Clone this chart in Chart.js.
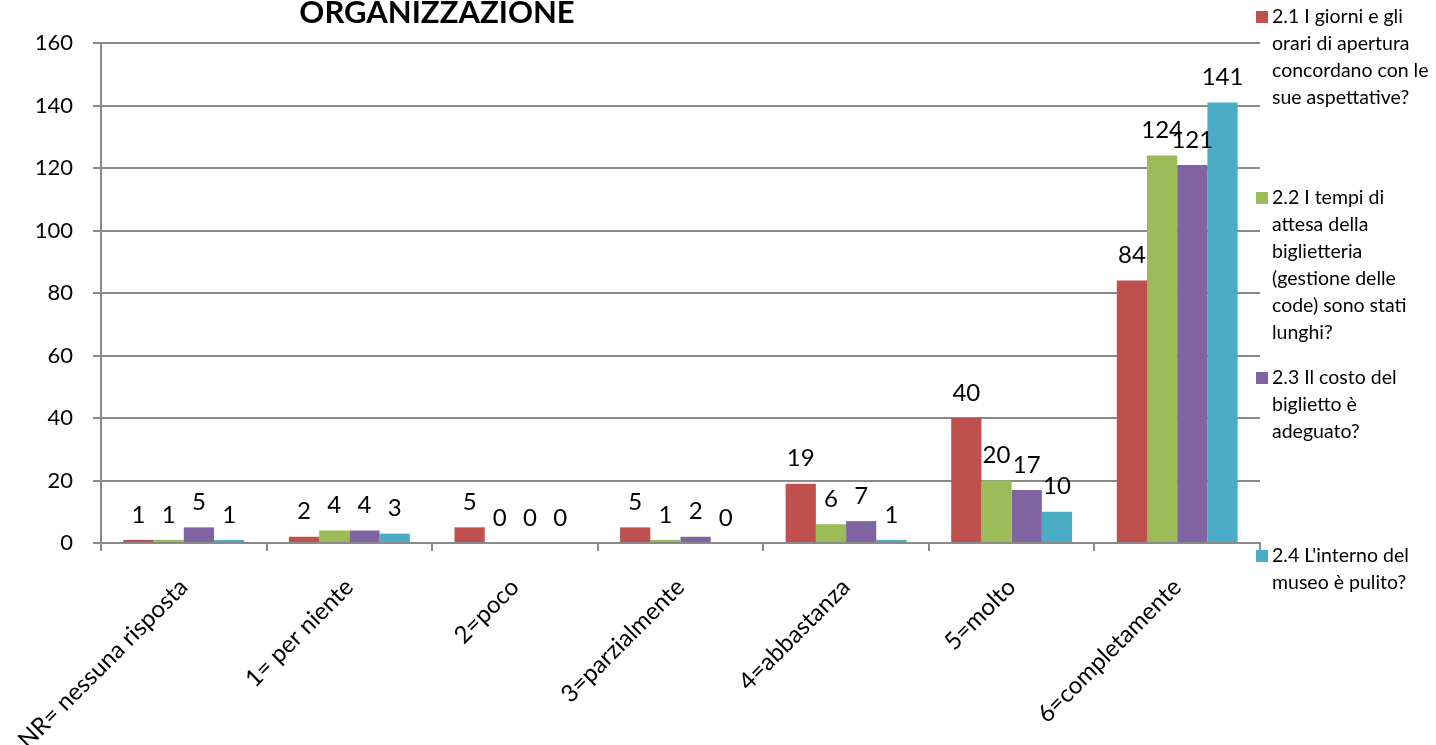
<!DOCTYPE html>
<html>
<head>
<meta charset="utf-8">
<script src="https://cdn.jsdelivr.net/npm/chart.js@4"></script>
<style>
    html, body { margin: 0; padding: 0; background: #fff; }
    #contenitore { width: 1436px; height: 745px; position: relative; }
</style>
</head>
<body>
<div id="contenitore"><canvas id="grafico"></canvas></div>
<script>
// dati
const categorie = ["NR= nessuna risposta", "1= per niente", "2=poco", "3=parzialmente", "4=abbastanza", "5=molto", "6=completamente"];
const giorniOrari = [1, 2, 5, 5, 19, 40, 84];
const tempiAttesa = [1, 4, 0, 1, 6, 20, 124];
const costoBiglietto = [5, 4, 0, 2, 7, 17, 121];
const pulizia = [1, 3, 0, 0, 1, 10, 141];
const nomiSerie = [
    ["2.1 I giorni e gli", "orari di apertura", "concordano con le", "sue aspettative?"],
    ["2.2 I tempi di", "attesa della", "biglietteria", "(gestione delle", "code) sono stati", "lunghi?"],
    ["2.3 Il costo del", "biglietto è", "adeguato?"],
    ["2.4 L'interno del", "museo è pulito?"]
];
const titolo = "ORGANIZZAZIONE";

const colori = ["#C0504D", "#9BBB59", "#8064A2", "#4BACC6"];
const FONT = "Lato, 'Open Sans', sans-serif";

// etichette con i valori sopra le barre
const etichetteValori = {
    id: "etichetteValori",
    afterDatasetsDraw(chart) {
        const ctx = chart.ctx;
        ctx.save();
        ctx.font = "24px " + FONT;
        ctx.fillStyle = "#000";
        ctx.textAlign = "center";
        ctx.textBaseline = "middle";
        chart.data.datasets.forEach(function (ds, i) {
            const meta = chart.getDatasetMeta(i);
            meta.data.forEach(function (bar, j) {
                ctx.fillText(String(ds.data[j]), bar.x, bar.y - 25);
            });
        });
        ctx.restore();
    }
};

// titolo e legenda disegnati a mano (la legenda ha testo su più righe)
const titoloELegenda = {
    id: "titoloELegenda",
    afterDraw(chart) {
        const ctx = chart.ctx;
        ctx.save();
        ctx.font = "bold 31px " + FONT;
        ctx.fillStyle = "#000";
        ctx.textAlign = "center";
        ctx.textBaseline = "middle";
        ctx.fillText(titolo, 437, 13);

        const inizio = [17, 198, 378, 556];
        ctx.font = "19.5px " + FONT;
        ctx.textAlign = "left";
        nomiSerie.forEach(function (righe, i) {
            ctx.fillStyle = colori[i];
            ctx.fillRect(1256, inizio[i] - 6, 12, 12);
            ctx.fillStyle = "#000";
            righe.forEach(function (r, k) {
                ctx.fillText(r, 1272, inizio[i] + k * 27);
            });
        });
        ctx.restore();
    }
};

const ctx = document.getElementById("grafico").getContext("2d");
const chart = new Chart(ctx, {
    type: "bar",
    data: {
        labels: categorie,
        datasets: [
            { label: nomiSerie[0].join(" "), data: giorniOrari, backgroundColor: colori[0] },
            { label: nomiSerie[1].join(" "), data: tempiAttesa, backgroundColor: colori[1] },
            { label: nomiSerie[2].join(" "), data: costoBiglietto, backgroundColor: colori[2] },
            { label: nomiSerie[3].join(" "), data: pulizia, backgroundColor: colori[3] }
        ]
    },
    options: {
        responsive: true,
        maintainAspectRatio: false,
        animation: false,
        layout: { padding: { top: 43, right: 176, left: 0, bottom: 0 } },
        datasets: { bar: { categoryPercentage: 0.73, barPercentage: 1 } },
        plugins: {
            legend: { display: false },
            title: { display: false },
            tooltip: { enabled: false }
        },
        scales: {
            x: {
                grid: { drawOnChartArea: false, drawTicks: true, tickLength: 8, color: "#8a8a8a", lineWidth: 2 },
                border: { color: "#8a8a8a", width: 2 },
                ticks: {
                    autoSkip: false, maxRotation: 45, minRotation: 45,
                    color: "#000", font: { family: FONT, size: 24 }, padding: 22
                },
                afterFit(scale) {
                    scale.height = 202;
                    scale.paddingLeft = 0;
                    scale.paddingRight = 0;
                }
            },
            y: {
                min: 0, max: 160,
                ticks: { stepSize: 20, color: "#000", font: { family: FONT, size: 22 }, padding: 20 },
                grid: { color: "#8a8a8a", lineWidth: 2, tickLength: 8 },
                border: { color: "#8a8a8a", width: 2 },
                afterFit(scale) { scale.width = 101; }
            }
        }
    },
    plugins: [etichetteValori, titoloELegenda]
});
</script>
</body>
</html>
